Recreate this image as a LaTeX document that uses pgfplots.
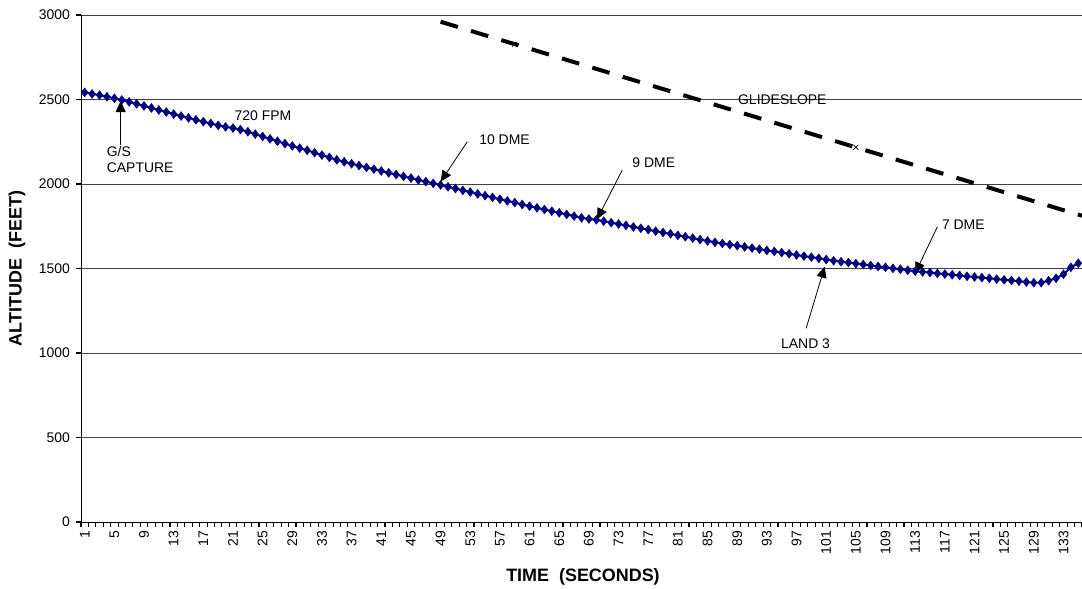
\documentclass[border=0pt]{standalone}
\usepackage{pgfplots}
\pgfplotsset{compat=1.18}
\usepackage{pgfplotstable}
\usepackage{fontspec}
\setmainfont{Liberation Sans}
\usetikzlibrary{arrows.meta}
\definecolor{navyser}{RGB}{0,0,128}

\pgfplotstableread{
t alt
1 2542
2 2533
3 2526
4 2516
5 2507
6 2497
7 2486
8 2474
9 2462
10 2450
11 2438
12 2426
13 2414
14 2402
15 2391
16 2380
17 2369
18 2358
19 2347
20 2338
21 2331
22 2322
23 2309
24 2295
25 2281
26 2267
27 2253
28 2239
29 2225
30 2212
31 2199
32 2185
33 2171
34 2157
35 2143
36 2131
37 2120
38 2109
39 2098
40 2088
41 2077
42 2066
43 2056
44 2045
45 2035
46 2024
47 2014
48 2004
49 1994
50 1983
51 1973
52 1962
53 1952
54 1941
55 1931
56 1921
57 1910
58 1900
59 1890
60 1879
61 1869
62 1859
63 1849
64 1839
65 1829
66 1820
67 1810
68 1800
69 1793
70 1788
71 1780
72 1771
73 1763
74 1755
75 1746
76 1738
77 1730
78 1721
79 1713
80 1705
81 1696
82 1688
83 1680
84 1671
85 1663
86 1655
87 1648
88 1641
89 1635
90 1628
91 1621
92 1614
93 1607
94 1601
95 1594
96 1587
97 1580
98 1573
99 1567
100 1560
101 1553
102 1546
103 1540
104 1535
105 1529
106 1524
107 1518
108 1512
109 1507
110 1501
111 1496
112 1490
113 1484
114 1480
115 1476
116 1471
117 1467
118 1463
119 1459
120 1454
121 1450
122 1446
123 1442
124 1437
125 1433
126 1429
127 1425
128 1420
129 1416
130 1416
131 1428
132 1442
133 1466
134 1507
135 1531
}\altdata

\pgfplotstableread{
t alt
49 2960
135.5 1812
}\gsdata

\pgfplotstableread{
t alt
59 2827
105 2217
}\gsmarks

\begin{document}
\begin{tikzpicture}
\useasboundingbox (0,0) rectangle (1082bp,589bp);
\begin{axis}[
  at={(81bp,67bp)}, anchor=south west,
  scale only axis, width=1001bp, height=507bp,
  xmin=0.5, xmax=135.5, ymin=0, ymax=3000,
  axis lines*=left,
  axis line style={black, line width=1bp},
  font=\fontsize{14}{16}\selectfont,
  /pgf/number format/assume math mode=true,
  /pgf/number format/1000 sep={},
  ytick={0,500,...,3000},
  minor ytick={0,500,...,3000},
  xtick={1,5,...,133},
  minor xtick={0.5,1.5,...,135.5},
  tick align=outside,
  major tick length=0pt,
  minor tick length=5bp,
  tick style={black, line width=1.1bp},
  xticklabel style={rotate=90, anchor=east, inner sep=0pt, font=\fontsize{14}{16}\selectfont},
  xticklabel shift=9bp,
  yticklabel style={inner sep=0pt, font=\fontsize{14}{16}\selectfont},
  yticklabel shift=11bp,
  ymajorgrids,
  major grid style={black!75, line width=0.8bp},
  xlabel={\bfseries TIME\ \ (SECONDS)},
  ylabel={\bfseries ALTITUDE\ \ (FEET)},
  xlabel style={at={(axis description cs:0.5015,-0.1085)}, anchor=center, font=\fontsize{18}{20}\selectfont},
  ylabel style={at={(axis description cs:-0.064,0.5)}, anchor=center, font=\fontsize{18}{20}\selectfont},
  clip=true,
]
\addplot[black, line width=4bp, dash pattern=on 18bp off 13.7bp] table[x=t,y=alt] {\gsdata};
\addplot[only marks, mark=x, mark size=3.5bp, black, line width=0.7bp] table[x=t,y=alt] {\gsmarks};
\addplot[navyser, line width=2bp, mark=diamond*, mark size=4.5bp,
  mark options={fill=navyser, draw=navyser, line width=0.4bp}] table[x=t,y=alt] {\altdata};

\tikzset{ann/.style={anchor=west, inner sep=0pt, font=\fontsize{14}{16}\selectfont},
         arr/.style={-{Triangle[length=11bp,width=10bp]}, black, line width=0.8bp}}
\node[ann] at (axis cs:21.2,2402) {720 FPM};
\node[ann, align=left] at (axis cs:3.96,2145) {G/S\\CAPTURE};
\node[ann] at (axis cs:54.2,2260) {10 DME};
\node[ann] at (axis cs:74.85,2128) {9 DME};
\node[ann] at (axis cs:89.1,2497) {GLIDESLOPE};
\node[ann] at (axis cs:94.9,1057) {LAND 3};
\node[ann] at (axis cs:116.6,1757) {7 DME};
\draw[arr] (axis cs:5.85,2231) -- (axis cs:5.85,2491);
\draw[arr] (axis cs:52.6,2250) -- (axis cs:49.0,2014);
\draw[arr] (axis cs:73.5,2083) -- (axis cs:70.1,1791);
\draw[arr] (axis cs:98.3,1146) -- (axis cs:100.8,1511);
\draw[arr] (axis cs:116.0,1747) -- (axis cs:113.0,1472);
\end{axis}
\end{tikzpicture}
\end{document}
